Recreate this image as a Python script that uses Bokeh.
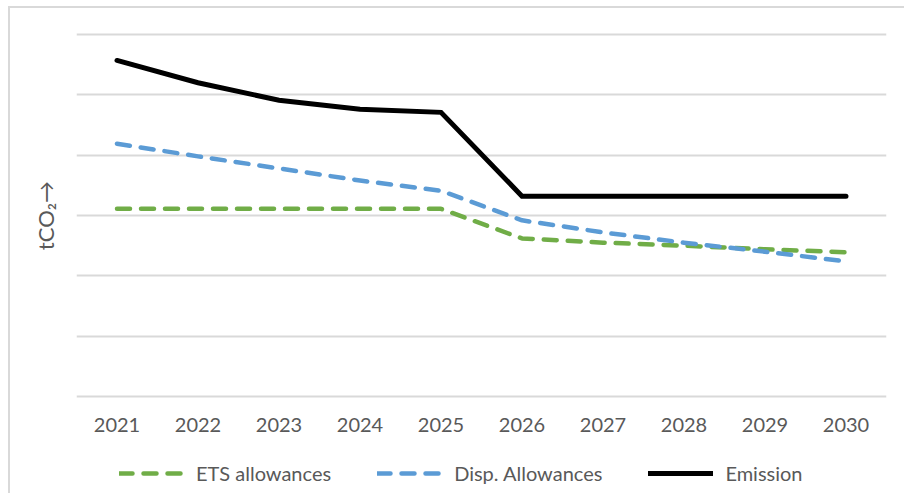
from bokeh.plotting import figure
from bokeh.layouts import column
from bokeh.models import FactorRange, Range1d, FixedTicker, Legend, LegendItem
from bokeh.embed import file_html
from bokeh.resources import INLINE

years = ["2021", "2022", "2023", "2024", "2025", "2026", "2027", "2028", "2029", "2030"]
ets_allowances = [3.11, 3.11, 3.11, 3.11, 3.11, 2.62, 2.55, 2.50, 2.44, 2.39]
disp_allowances = [4.19, 3.98, 3.78, 3.58, 3.41, 2.92, 2.72, 2.55, 2.40, 2.24]
emission = [5.57, 5.20, 4.91, 4.76, 4.71, 3.32, 3.32, 3.32, 3.32, 3.32]
grid_ticks = [0, 1, 2, 3, 4, 5, 6]
series_names = ["ETS allowances", "Disp. Allowances", "Emission"]

FONT = "Lato"
TXT = "#595959"
GREEN, BLUE, BLACK = "#70AD47", "#5B9BD5", "#000000"

p = figure(width=896, height=443, x_range=FactorRange(*years),
           y_range=Range1d(-0.05, 6.05),
           output_backend="svg", toolbar_location=None,
           min_border_left=66, min_border_right=20, min_border_top=23, min_border_bottom=52)
p.styles = {"border-left": "2px solid #d9d9d9", "border-top": "2px solid #d9d9d9",
            "margin-left": "8px", "margin-top": "6px"}
p.outline_line_color = None
p.background_fill_color = "white"
p.border_fill_color = "white"

p.line(years, ets_allowances, line_color=GREEN, line_width=4.5,
       line_dash="13 11", line_cap="round", line_join="round")
p.line(years, disp_allowances, line_color=BLUE, line_width=4.5,
       line_dash="13 11", line_cap="round", line_join="round")
p.line(years, emission, line_color=BLACK, line_width=5,
       line_cap="round", line_join="miter")

p.xgrid.grid_line_color = None
p.ygrid.grid_line_color = "#d9d9d9"
p.ygrid.grid_line_width = 2
p.yaxis.ticker = FixedTicker(ticks=grid_ticks)

p.xaxis.axis_line_color = None
p.xaxis.major_tick_line_color = None
p.xaxis.minor_tick_line_color = None
p.xaxis.major_tick_out = 0
p.xaxis.major_label_text_font = FONT
p.xaxis.major_label_text_font_size = "20px"
p.xaxis.major_label_text_color = TXT
p.xaxis.major_label_standoff = 18

p.yaxis.axis_line_color = None
p.yaxis.major_tick_line_color = None
p.yaxis.minor_tick_line_color = None
p.yaxis.major_label_text_font_size = "0px"
p.yaxis.axis_label = "tCO\u2082\u2192"
p.yaxis.axis_label_text_font = FONT
p.yaxis.axis_label_text_font_size = "22px"
p.yaxis.axis_label_text_font_style = "normal"
p.yaxis.axis_label_text_color = TXT
p.yaxis.axis_label_standoff = 12

# legend strip (same series, plotted out of view so only the legend shows)
lg = figure(width=896, height=44, x_range=FactorRange(*years), y_range=Range1d(-10, -9),
            output_backend="svg", toolbar_location=None,
            min_border_left=0, min_border_right=0, min_border_top=0, min_border_bottom=0)
lg.styles = {"border-left": "2px solid #d9d9d9", "margin-left": "8px"}
lg.outline_line_color = None
lg.axis.visible = False
lg.grid.grid_line_color = None
l1 = lg.line(years, ets_allowances, line_color=GREEN, line_width=4.5,
             line_dash="13 11", line_cap="round")
l2 = lg.line(years, disp_allowances, line_color=BLUE, line_width=4.5,
             line_dash="13 11", line_cap="round")
l3 = lg.line(years, emission, line_color=BLACK, line_width=5, line_cap="round")

legend = Legend(items=[
    LegendItem(label=series_names[0], renderers=[l1]),
    LegendItem(label=series_names[1], renderers=[l2]),
    LegendItem(label=series_names[2], renderers=[l3]),
], orientation="horizontal", location=(43, 8))
legend.glyph_width = 65
legend.glyph_height = 20
legend.label_standoff = 12
legend.spacing = 46
legend.padding = 0
legend.margin = 0
legend.border_line_alpha = 0
legend.background_fill_alpha = 0
legend.label_text_font = FONT
legend.label_text_font_size = "20px"
legend.label_text_color = TXT
lg.add_layout(legend, "center")

layout = column(p, lg, spacing=0)
open("out.html", "w").write(file_html(layout, INLINE))
